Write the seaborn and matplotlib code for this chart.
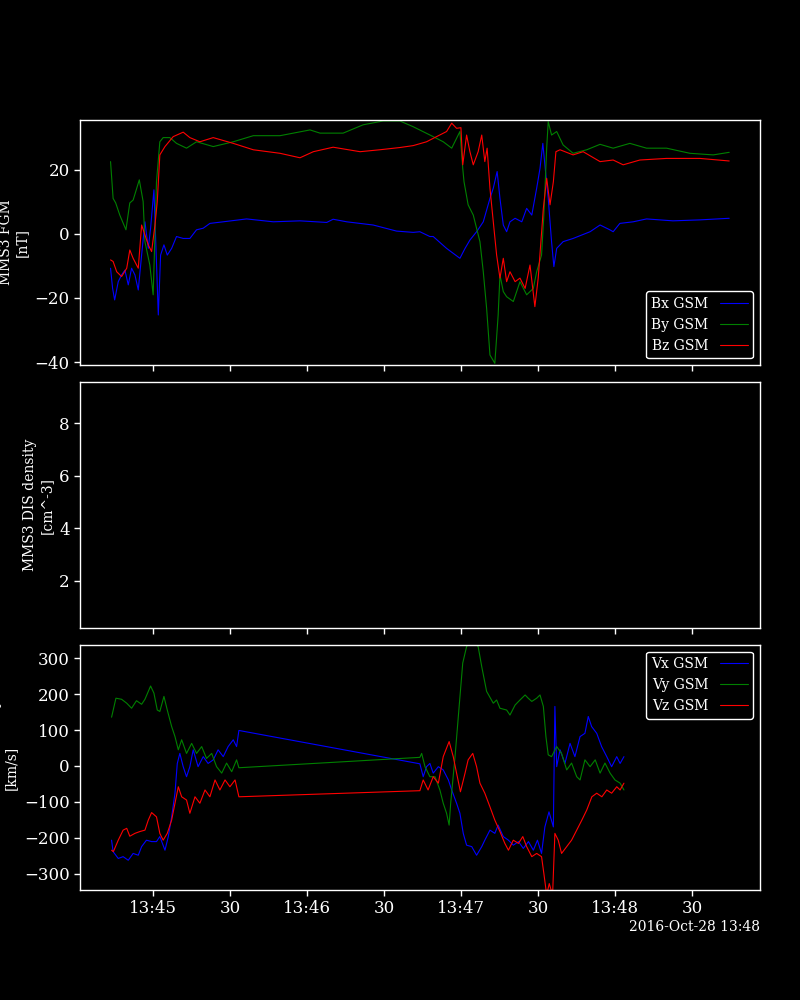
import numpy as np
import pandas as pd
import matplotlib
matplotlib.use("Agg")
import matplotlib.pyplot as plt
import matplotlib.dates as mdates
from matplotlib.lines import Line2D
import seaborn as sns

# ---- data: times are seconds after 2016-10-28 13:44:00 ----
start = "2016-10-28 13:44:00"

bx_t = [43.5, 44.3, 45.1, 46.5, 47.8, 49.1, 50.4, 51.7, 53.0, 54.3, 55.6, 56.9, 58.2, 59.1, 60.4, 61.2,
        62.1, 63.0, 64.3, 65.6, 67.3, 69.2, 71.8, 74.4, 77.0, 79.6, 82.2, 87.4, 96.5, 106.9, 117.3,
        127.7, 130.2, 135.5, 145.8, 154.9, 161.4, 164.0, 167.9, 169.2, 174.4, 179.6, 181.6, 183.5,
        186.1, 188.7, 191.3, 192.6, 194.1, 195.2, 196.5, 197.8, 199.1, 201.1, 203.7, 205.6, 207.6,
        209.5, 210.8, 211.9, 212.7, 214.0, 215.3, 216.2, 217.3, 219.8, 223.7, 230.3, 234.2, 238.0,
        239.3, 241.9, 247.1, 252.3, 262.6, 273.1, 284.5]
bx_v = [-10.7, -17.0, -20.6, -14.9, -12.8, -11.3, -15.9, -10.7, -12.8, -17.5, -6.6, 3.8, -4.5, 1.8, 13.8, -4.5,
        -25.3, -6.6, -3.4, -6.6, -4.5, -0.8, -1.4, -1.4, 1.3, 1.8, 3.3, 3.8, 4.7, 3.8, 4.1,
        3.6, 4.6, 3.8, 2.8, 0.9, 0.5, 0.7, -0.8, -0.8, -4.5, -7.6, -4.5, -1.9,
        0.7, 3.8, 11.1, 14.3, 19.5, 11.1, 2.8, 0.7, 3.8, 4.9, 3.8, 8.0, 5.9,
        14.3, 20.5, 28.3, 21.6, 11.1, -2.4, -10.2, -4.5, -2.4, -1.4, 0.7, 2.8, 1.3,
        0.7, 3.3, 3.8, 4.7, 4.1, 4.4, 4.9]

by_t = [43.5, 44.5, 45.5, 47.1, 49.5, 51.0, 52.3, 54.7, 56.2, 56.9, 58.8, 60.1, 61.4, 62.7, 64.0, 66.6,
        69.2, 73.1, 77.0, 83.5, 91.3, 99.1, 109.5, 121.2, 125.1, 134.1, 141.9, 149.7, 156.2, 161.4,
        169.2, 173.1, 176.4, 179.6, 180.7, 181.2, 182.8, 184.8, 187.4, 188.7, 190.0, 191.3, 193.2,
        194.5, 195.2, 196.5, 197.8, 200.4, 203.0, 205.6, 208.2, 209.5, 211.4, 212.3, 213.4, 214.0,
        215.3, 217.3, 219.8, 223.7, 229.0, 234.2, 239.3, 245.8, 252.3, 260.1, 269.2, 278.3, 284.5]
by_v = [22.6, 11.1, 9.7, 5.9, 1.3, 9.7, 10.6, 16.9, 10.1, -2.4, -9.7, -19.0, 16.3, 28.8, 30.1, 30.1,
        28.3, 26.8, 28.8, 27.3, 28.8, 30.7, 30.7, 32.5, 31.5, 31.5, 34.1, 35.3, 35.3, 33.5,
        30.4, 28.8, 26.8, 32.0, 20.5, 16.3, 9.1, 5.9, -2.4, -11.8, -23.2, -37.8, -40.4,
        -25.3, -12.8, -18.0, -19.6, -21.1, -14.9, -19.0, -17.0, -11.8, -6.6, 5.9, 26.8, 35.1,
        30.9, 32.0, 27.8, 25.2, 26.3, 28.0, 26.8, 28.3, 26.8, 26.8, 25.2, 24.7, 25.5]

bz_t = [43.5, 44.5, 45.9, 47.8, 49.8, 51.0, 52.3, 54.3, 55.6, 56.9, 58.2, 59.5, 60.8, 61.7, 62.7, 64.7,
        67.9, 71.8, 74.4, 78.3, 83.5, 91.3, 99.1, 109.5, 117.3, 122.5, 130.2, 140.7, 148.4, 156.2,
        161.4, 166.6, 170.5, 174.4, 176.4, 178.3, 180.0, 180.7, 182.2, 183.5, 184.8, 186.7, 188.1,
        189.3, 190.2, 191.3, 192.6, 193.9, 195.2, 196.5, 197.8, 199.1, 201.1, 203.0, 205.0, 206.9,
        208.8, 210.1, 212.1, 213.4, 214.7, 216.0, 217.0, 218.6, 223.7, 227.6, 234.2, 239.3, 243.2,
        249.7, 260.1, 273.1, 284.5]
bz_v = [-8.1, -8.6, -11.8, -13.3, -10.7, -5.0, -7.6, -10.7, 2.8, -0.3, -3.4, -5.5, 2.8, 10.1, 24.7, 27.3,
        30.4, 31.8, 30.1, 28.8, 30.1, 28.3, 26.3, 25.2, 23.8, 25.7, 27.1, 25.7, 26.3, 27.0,
        27.6, 28.8, 30.4, 32.0, 34.6, 33.0, 33.2, 21.6, 30.9, 25.7, 21.6, 25.7, 30.9,
        22.6, 26.8, 14.3, 3.8, -6.6, -13.8, -7.6, -14.9, -11.8, -14.9, -13.8, -17.0, -9.7,
        -22.7, -13.8, 8.0, 17.4, 9.1, 16.3, 25.7, 26.3, 24.7, 25.7, 22.6, 23.1, 21.6,
        23.1, 23.6, 23.6, 22.8]

vx_t = [43.9, 44.5, 46.5, 48.4, 50.4, 52.3, 54.3, 55.6, 57.5, 59.5, 61.4, 62.7, 64.7, 66.0, 67.3, 68.6,
        69.5, 70.5, 71.8, 73.1, 74.4, 75.7, 77.6, 79.6, 81.5, 83.5, 85.4, 87.4, 89.3, 91.3, 92.6, 93.5,
        164.0, 165.3, 166.6, 167.9, 169.2, 171.2, 173.1, 175.1, 176.4, 178.3, 179.6, 180.9, 182.2,
        184.2, 186.1, 188.1, 189.3, 191.3, 193.2, 194.5, 196.5, 198.5, 200.4, 202.4, 204.3, 206.3,
        208.2, 209.8, 211.4, 212.7, 214.3, 216.0, 216.6, 217.3, 218.6, 220.5, 222.5, 224.4, 226.4,
        228.3, 229.6, 230.9, 232.9, 234.8, 236.8, 238.7, 240.7, 242.0, 243.5]
vx_v = [-207, -239, -258, -253, -263, -244, -249, -225, -207, -211, -211, -197, -235, -197, -142, -76,
        7, 35, -2, -30, -2, 45, -2, 26, 7, 17, 45, 26, 54, 73, 54, 99,
        6, -30, -2, 7, -20, -2, -11, -39, -67, -104, -132, -188, -221,
        -225, -249, -225, -207, -179, -188, -165, -197, -207, -221, -211, -230, -211,
        -235, -207, -244, -170, -128, -170, 166, -2, 45, 7, 63, 26, 82,
        91, 138, 110, 91, 54, 26, -2, 26, 7, 26]

vy_t = [43.9, 45.6, 47.8, 49.8, 51.7, 53.6, 55.6, 56.9, 59.1, 60.4, 61.7, 62.7, 64.3, 65.6, 67.3, 68.6,
        69.9, 71.2, 73.1, 75.1, 77.0, 79.0, 80.9, 82.9, 84.8, 86.8, 88.7, 90.7, 92.6, 93.5,
        164.0, 164.7, 166.0, 167.9, 169.9, 171.8, 173.1, 174.4, 175.4, 176.0, 177.7, 179.3, 180.7,
        182.2, 184.2, 186.7, 188.1, 190.0, 192.6, 193.9, 195.2, 197.8, 199.1, 201.1, 203.0, 205.0,
        206.2, 207.6, 209.5, 210.8, 212.1, 213.1, 214.0, 215.3, 217.3, 219.2, 221.2, 223.1, 225.1,
        226.4, 228.3, 230.3, 232.3, 234.2, 236.1, 238.1, 240.0, 242.0, 243.5]
vy_v = [136, 189, 186, 175, 161, 182, 172, 186, 223, 203, 156, 152, 194, 156, 110, 82,
        45, 73, 35, 63, 35, 54, 21, 35, -2, -20, 8, -16, 17, -5,
        24, 35, -2, -30, -30, -67, -104, -132, -165, -104, 26, 166, 287,
        333, 352, 333, 277, 208, 175, 184, 161, 156, 142, 170, 184, 198,
        189, 180, 189, 198, 166, 82, 31, 26, 54, 35, -11, 8, -30,
        -39, 17, -2, 17, -20, 8, -20, -39, -48, -67]

vz_t = [43.9, 44.6, 46.5, 48.4, 49.8, 51.0, 53.0, 54.9, 56.9, 58.2, 59.5, 61.4, 62.7, 64.0, 65.6, 67.3,
        68.6, 69.9, 71.2, 73.1, 74.4, 76.4, 78.3, 80.3, 82.2, 84.2, 86.1, 88.1, 90.0, 92.0, 93.5,
        164.0, 165.3, 167.2, 169.2, 171.2, 173.1, 175.4, 177.0, 178.3, 179.8, 181.6, 182.8, 184.6,
        186.1, 187.4, 189.3, 191.3, 193.2, 195.2, 197.1, 198.5, 200.4, 202.4, 204.1, 205.6, 207.6,
        209.5, 211.4, 212.3, 213.4, 214.4, 215.7, 216.6, 217.9, 219.2, 221.2, 223.1, 225.1, 227.1,
        229.0, 231.0, 232.9, 234.9, 236.8, 238.7, 240.7, 242.0, 243.5]
vz_v = [-235, -239, -207, -179, -174, -196, -188, -183, -179, -151, -130, -142, -188, -207, -188, -151,
        -104, -58, -86, -95, -132, -86, -104, -67, -86, -39, -67, -39, -58, -39, -86,
        -69, -39, -67, -30, -48, 26, 68, 26, -20, -72, -20, 17, 35,
        -2, -48, -76, -114, -151, -183, -216, -235, -207, -216, -197, -225, -253,
        -244, -253, -300, -360, -328, -360, -188, -207, -244, -225, -207, -179, -151,
        -123, -86, -76, -86, -67, -76, -58, -67, -48]

b_labels = ["Bx GSM", "By GSM", "Bz GSM"]
v_labels = ["Vx GSM", "Vy GSM", "Vz GSM"]
colors = ["blue", "green", "red"]
yticks_v = [-300, -200, -100, 0, 100, 200, 300]


def frame(times, values, label):
    return pd.DataFrame({"time": pd.Timestamp(start) + pd.to_timedelta(times, unit="s"),
                         "value": values, "series": label})


b_df = pd.concat([frame(bx_t, bx_v, b_labels[0]), frame(by_t, by_v, b_labels[1]),
                  frame(bz_t, bz_v, b_labels[2])], ignore_index=True)
v_df = pd.concat([frame(vx_t, vx_v, v_labels[0]), frame(vy_t, vy_v, v_labels[1]),
                  frame(vz_t, vz_v, v_labels[2])], ignore_index=True)

sns.set_style("dark", rc={"axes.facecolor": "black", "figure.facecolor": "black",
                          "axes.edgecolor": "white", "xtick.color": "white", "ytick.color": "white",
                          "axes.labelcolor": "white", "text.color": "white", "axes.grid": False,
                          "xtick.bottom": True, "ytick.left": True})
plt.rcParams["font.family"] = ["DejaVu Serif"]
plt.rcParams["xtick.labelsize"] = 12
plt.rcParams["ytick.labelsize"] = 12
plt.rcParams["xtick.direction"] = "out"
plt.rcParams["ytick.direction"] = "out"

fig, axes = plt.subplots(3, 1, figsize=(8, 10), dpi=100, sharex=True)
fig.subplots_adjust(left=0.1, right=0.95, top=0.88, bottom=0.11, hspace=0.07)

pal_b = dict(zip(b_labels, colors))
pal_v = dict(zip(v_labels, colors))

sns.lineplot(data=b_df, x="time", y="value", hue="series", palette=pal_b, ax=axes[0],
             lw=0.8, legend=False, estimator=None, sort=True)
sns.lineplot(data=v_df, x="time", y="value", hue="series", palette=pal_v, ax=axes[2],
             lw=0.8, legend=False, estimator=None, sort=True)

xmin = pd.Timestamp(start) + pd.to_timedelta(31.6, unit="s")
xmax = pd.Timestamp(start) + pd.to_timedelta(296.5, unit="s")
for ax in axes:
    ax.set_xlim(xmin, xmax)
    ax.set_facecolor("black")
    for s in ax.spines.values():
        s.set_color("white")
        s.set_linewidth(1.0)
    ax.tick_params(axis="both", colors="white", length=4, width=1)
    ax.set_xlabel("")

axes[0].set_ylim(-41, 35.6)
axes[0].set_yticks([-40, -20, 0, 20])
axes[1].set_ylim(0.22, 9.56)
axes[1].set_yticks([2, 4, 6, 8])
axes[2].set_ylim(-346, 338)
axes[2].set_yticks(yticks_v)

axes[0].set_ylabel("MMS3 FGM\n[nT]", fontsize=10)
axes[1].set_ylabel("MMS3 DIS density\n[cm^-3]", fontsize=10)
axes[2].set_ylabel("MMS3 DIS velocity\n[km/s]", fontsize=10)

loc = mdates.SecondLocator(bysecond=[0, 30])


def fmt(x, pos=None):
    d = mdates.num2date(x)
    return d.strftime("%H:%M") if d.second == 0 else d.strftime("%S")


axes[2].xaxis.set_major_locator(loc)
axes[2].xaxis.set_major_formatter(plt.FuncFormatter(fmt))

for ax, labels, where in [(axes[0], b_labels, "lower right"), (axes[2], v_labels, "upper right")]:
    handles = [Line2D([], [], color=c, lw=0.8) for c in colors]
    leg = ax.legend(handles, labels, loc=where, markerfirst=False, fontsize=10,
                    facecolor="black", edgecolor="white", labelcolor="white", framealpha=1)

fig.text(0.95, 0.073, "2016-Oct-28 13:48", ha="right", va="center", color="white", fontsize=10)

fig.savefig("out.png", dpi=100, facecolor="black")
